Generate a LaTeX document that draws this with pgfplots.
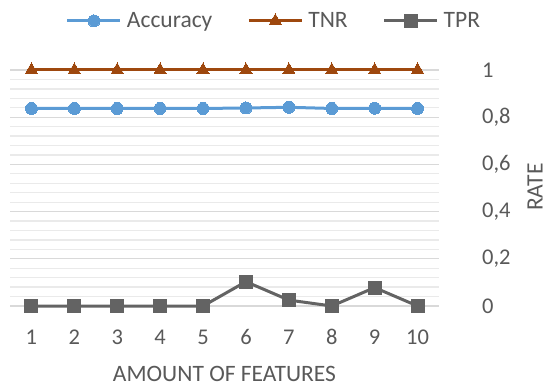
\documentclass[border=0pt]{standalone}
\usepackage{pgfplots}
\pgfplotsset{compat=1.18}
\usepackage{fontspec}
\setmainfont{Carlito}
\definecolor{accblue}{HTML}{5B9BD5}
\definecolor{tnrbrown}{HTML}{9E480E}
\definecolor{tprgray}{HTML}{636363}
\definecolor{txtgray}{HTML}{595959}
\definecolor{majgrid}{HTML}{D9D9D9}
\definecolor{mingrid}{HTML}{EAEAEA}

\begin{document}
\begin{tikzpicture}
\useasboundingbox (-10bp,-82bp) rectangle (537bp,306bp);
\begin{axis}[
  at={(0,0)}, anchor=south west,
  scale only axis,
  width=429bp, height=236bp,
  xmin=0.5, xmax=10.5, ymin=0, ymax=1,
  axis line style={draw=none},
  tick style={draw=none},
  xtick={1,...,10},
  ytick={0,0.2,...,1},
  minor y tick num=4,
  ymajorgrids, yminorgrids,
  major grid style={majgrid, line width=1.3bp},
  minor grid style={mingrid, line width=1.3bp},
  yticklabel pos=right,
  /pgf/number format/assume math mode=true,
  /pgf/number format/use comma,
  /pgf/number format/fixed,
  /pgf/number format/precision=1,
  ticklabel style={font=\fontsize{22.5bp}{26bp}\selectfont, text=txtgray, inner sep=0pt},
  xticklabel style={anchor=center, yshift=-31bp},
  yticklabel style={anchor=west, xshift=43bp},
  xlabel={AMOUNT OF FEATURES},
  ylabel={RATE},
  label style={font=\fontsize{23.5bp}{27bp}\selectfont, text=txtgray, inner sep=0pt},
  xlabel style={at={(axis description cs:0.5,-0.286)}, anchor=center},
  ylabel style={at={(axis description cs:1.224,0.504)}, anchor=center, rotate=0},
  legend columns=3,
  legend style={at={(axis description cs:0.1305,1.208)}, anchor=west,
    draw=none, fill=none, inner sep=0pt, outer sep=0pt,
    nodes={inner sep=0pt},
    font=\fontsize{23.5bp}{27bp}\selectfont, text=txtgray,
    /tikz/every odd column/.append style={column sep=5bp},
    /tikz/every even column/.append style={column sep=35bp}},
  legend image code/.code={%
    \draw[mark repeat=2, mark phase=2] plot coordinates {(0bp,0bp) (26.5bp,0bp) (53bp,0bp)};},
  clip=false,
]
\addplot[accblue, line width=3bp, mark=*, mark size=6bp, mark options={fill=accblue, draw=accblue, line width=0pt}]
  coordinates {(1,0.837) (2,0.837) (3,0.837) (4,0.837) (5,0.837) (6,0.839) (7,0.842) (8,0.837) (9,0.838) (10,0.837)};
\addlegendentry{Accuracy}
\addplot[tnrbrown, line width=3bp, mark=triangle*, mark size=7bp, mark options={fill=tnrbrown, draw=tnrbrown, line width=0pt}]
  coordinates {(1,1) (2,1) (3,1) (4,1) (5,1) (6,1) (7,1) (8,1) (9,1) (10,1)};
\addlegendentry{TNR}
\addplot[tprgray, line width=3bp, mark=square*, mark size=6.5bp, mark options={fill=tprgray, draw=tprgray, line width=0pt}]
  coordinates {(1,0) (2,0) (3,0) (4,0) (5,0) (6,0.103) (7,0.025) (8,0) (9,0.078) (10,0)};
\addlegendentry{TPR}
\end{axis}
\end{tikzpicture}
\end{document}
